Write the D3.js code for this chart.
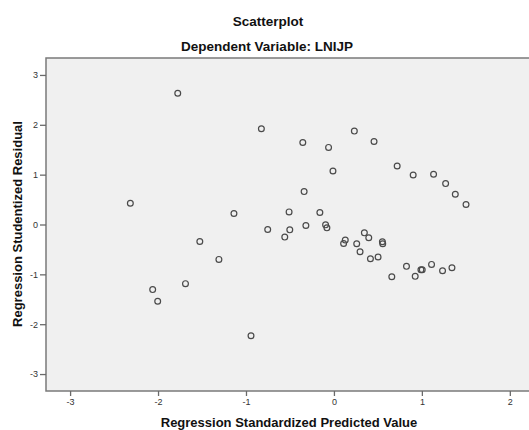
<!DOCTYPE html>
<html>
<head>
<meta charset="utf-8">
<script src="https://cdn.jsdelivr.net/npm/d3@7"></script>
<style>
    html, body { margin: 0; padding: 0; background: #fff; }
    svg { display: block; font-family: 'Liberation Sans', Arial, sans-serif; }
</style>
</head>
<body>
<div id="chart"></div>
<script>
const TITLE = 'Scatterplot';
const SUBTITLE = 'Dependent Variable: LNIJP';
const X_LABEL = 'Regression Standardized Predicted Value';
const Y_LABEL = 'Regression Studentized Residual';

const X_TICKS = [-3, -2, -1, 0, 1, 2];
const Y_TICKS = [-3, -2, -1, 0, 1, 2, 3];

// standardized predicted values (x)
const predicted = [
    -2.315, -1.776, -2.061, -2.004, -0.825, 0.232, -0.354, -0.061, -0.011, -0.339,
    -1.137, -0.51, -0.16, -0.753, -0.502, -0.559, -0.319, -0.095, -0.08, -1.525,
    -1.308, -1.688, -0.943, 0.129, 0.11, 0.259, 0.297, 0.456, 0.719, 0.901,
    1.133, 1.27, 1.38, 1.502, 0.346, 0.396, 0.551, 0.555, 0.415, 0.502,
    0.658, 0.825, 0.924, 0.989, 1.004, 1.11, 1.235, 1.342
];

// studentized residuals (y)
const residual = [
    0.426, 2.634, -1.306, -1.54, 1.92, 1.874, 1.646, 1.547, 1.073, 0.66,
    0.22, 0.253, 0.24, -0.1, -0.107, -0.253, -0.02, -0.007, -0.067, -0.34,
    -0.7, -1.187, -2.233, -0.313, -0.38, -0.387, -0.547, 1.666, 1.173, 0.993,
    1.007, 0.82, 0.607, 0.4, -0.167, -0.267, -0.347, -0.387, -0.687, -0.653,
    -1.047, -0.84, -1.04, -0.907, -0.907, -0.8, -0.927, -0.867
];

const width = 529;
const height = 430;
const margin = { top: 58, left: 46, bottom: 39 };
const plotRight = 545; // the frame runs past the right edge of the picture

const svg = d3.select('#chart').append('svg').attr('width', width).attr('height', height);

const xScale = d3.scaleLinear().domain([-3.274, 2.4]).range([margin.left, plotRight]);
const yScale = d3.scaleLinear().domain([-3.34, 3.34]).range([height - margin.bottom, margin.top]);

// plot background and frame
svg.append('rect')
    .attr('x', margin.left)
    .attr('y', margin.top)
    .attr('width', plotRight - margin.left)
    .attr('height', height - margin.bottom - margin.top)
    .attr('fill', '#f0f0f0')
    .attr('stroke', '#7a7a7a')
    .attr('stroke-width', 1.5);

// axes (plain hyphen for negatives, as in the original)
const fmt = (d) => String(d);

const xAxis = svg.append('g')
    .attr('transform', `translate(0, ${height - margin.bottom})`)
    .call(d3.axisBottom(xScale).tickValues(X_TICKS).tickFormat(fmt).tickSize(5).tickPadding(3));

const yAxis = svg.append('g')
    .attr('transform', `translate(${margin.left}, 0)`)
    .call(d3.axisLeft(yScale).tickValues(Y_TICKS).tickFormat(fmt).tickSize(6).tickPadding(2));

for (const axis of [xAxis, yAxis]) {
    axis.select('.domain').remove();
    axis.selectAll('line').attr('stroke', '#6a6a6a').attr('stroke-width', 1.3);
    axis.selectAll('text')
        .attr('fill', '#333')
        .style('font-size', '9px')
        .style('font-family', "'Liberation Sans', Arial, sans-serif");
}

// points
svg.append('g')
    .selectAll('circle')
    .data(predicted.map((x, i) => ({ x, y: residual[i] })))
    .enter()
    .append('circle')
    .attr('cx', (d) => xScale(d.x))
    .attr('cy', (d) => yScale(d.y))
    .attr('r', 2.9)
    .attr('fill', 'none')
    .attr('stroke', '#4a4a4a')
    .attr('stroke-width', 1.2);

// titles
svg.append('text')
    .attr('x', 268)
    .attr('y', 26)
    .attr('text-anchor', 'middle')
    .style('font-size', '13.5px')
    .style('font-weight', 'bold')
    .attr('fill', '#111')
    .text(TITLE);

svg.append('text')
    .attr('x', 267)
    .attr('y', 51)
    .attr('text-anchor', 'middle')
    .style('font-size', '13.5px')
    .style('font-weight', 'bold')
    .attr('fill', '#111')
    .text(SUBTITLE);

svg.append('text')
    .attr('x', 289)
    .attr('y', 427)
    .attr('text-anchor', 'middle')
    .style('font-size', '13px')
    .style('font-weight', 'bold')
    .attr('fill', '#111')
    .text(X_LABEL);

svg.append('text')
    .attr('transform', 'translate(21.5, 224) rotate(-90)')
    .attr('text-anchor', 'middle')
    .style('font-size', '13px')
    .style('font-weight', 'bold')
    .attr('fill', '#111')
    .text(Y_LABEL);
</script>
</body>
</html>
